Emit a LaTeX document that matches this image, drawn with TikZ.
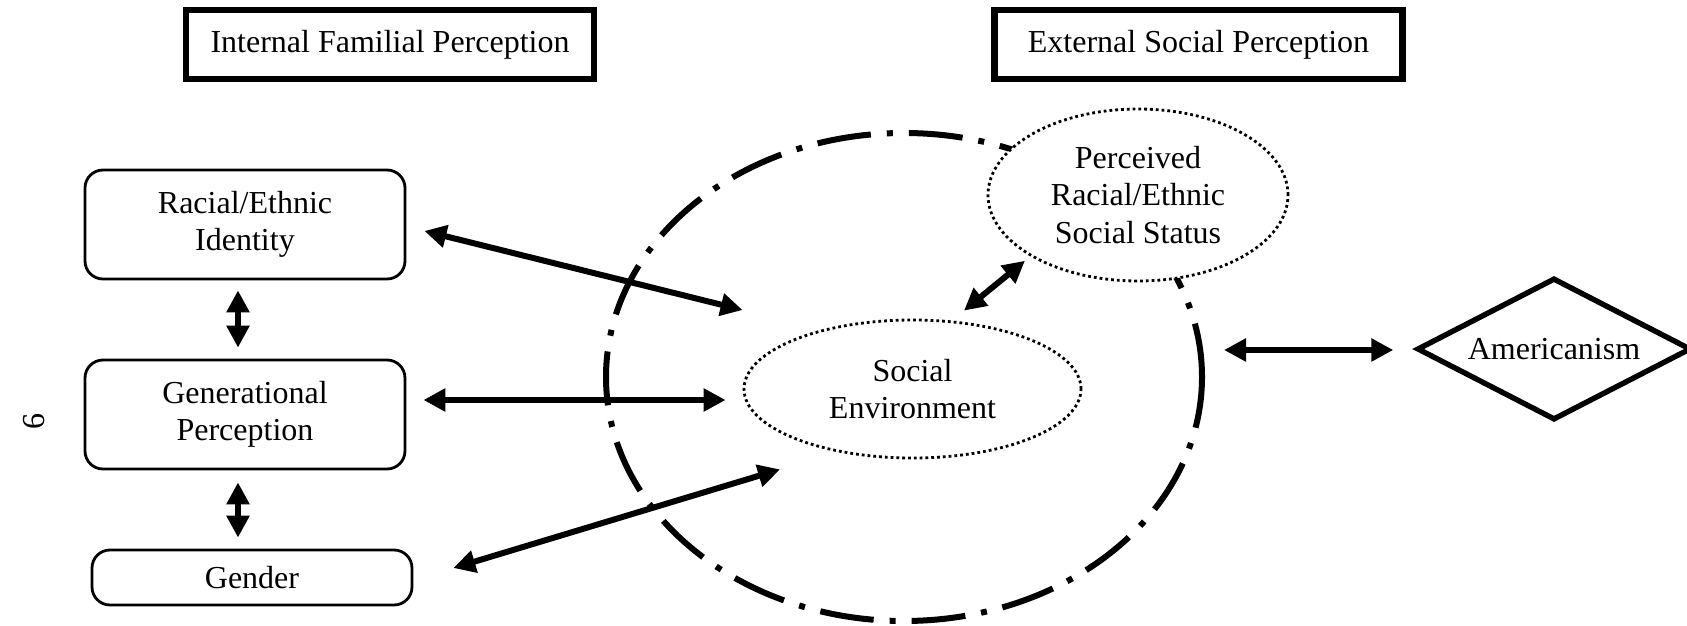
\documentclass[tikz,border=0pt]{standalone}
\usepackage{fontspec}
\setmainfont{Liberation Serif}
\usetikzlibrary{arrows.meta,shapes.geometric}

\begin{document}
\begin{tikzpicture}[x=0.5pt,y=-0.5pt,
  every node/.style={font=\fontsize{16}{18.8}\selectfont, align=center, inner sep=0pt},
  titlebox/.style={draw, line width=3.4pt, minimum width=204pt, minimum height=34.5pt},
  rbox/.style={draw, line width=1.4pt, rounded corners=9pt, minimum width=160pt},
  dotell/.style={draw, ellipse, line width=1.4pt, dash pattern=on 1.4pt off 1.5pt, fill=white},
  region/.style={draw, ellipse, line width=3pt, dash pattern=on 27pt off 8pt on 3pt off 8pt},
  link/.style={line width=3pt, {Triangle[length=11pt,width=11pt]}-{Triangle[length=11pt,width=11pt]}},
]
\useasboundingbox (0,0) rectangle (1687,626);
\fill[white] (0,0) rectangle (1687,626);

% headings
\node[titlebox] (ifp) at (390,44.5) {Internal Familial Perception};
\node[titlebox] (esp) at (1198.5,44.5) {External Social Perception};

% page number
\node[rotate=90] (pg) at (34,421) {6};

% familial factors
\node[rbox, minimum height=54.5pt] (race) at (245,224.5) {Racial/Ethnic\\Identity};
\node[rbox, minimum height=54.5pt] (gen) at (245,414.5) {Generational\\Perception};
\node[rbox, minimum height=27.5pt] (gender) at (252,577.5) {Gender};

% social sphere
\node[region, minimum width=298pt, minimum height=244pt] (outer) at (904,377) {};
\node[dotell, minimum width=168.5pt, minimum height=69pt] (socenv) at (912.5,389) {Social\\Environment};
\node[dotell, minimum width=150pt, minimum height=86pt] (perc) at (1138,195) {Perceived\\Racial/Ethnic\\Social Status};

% outcome
\node[draw, diamond, aspect=1.93, line width=2.7pt, minimum width=137pt, minimum height=71pt] (amer) at (1554,349) {Americanism};

% connectors
\draw[link] ([shift={(18,6.5)}]race.east) -- ([shift={(0,-79)}]socenv.west);
\draw[link] ([shift={(17,-14.5)}]gen.east) -- ([shift={(-17,11)}]socenv.west);
\draw[link] ([shift={(40,-9.5)}]gender.east) -- ([shift={(-132.5,10)}]socenv.south);
\draw[link] ([shift={(-7,10)}]race.south) -- ([shift={(-7,-11)}]gen.north);
\draw[link] ([shift={(-7,12)}]gen.south) -- ([shift={(-14,-11)}]gender.north);
\draw[link] ([shift={(51.5,-8)}]socenv.north) -- ([shift={(-6,4)}]perc.south west);
\draw[link] ([shift={(19,-27)}]outer.east) -- ([shift={(-21,1)}]amer.west);
\end{tikzpicture}
\end{document}
